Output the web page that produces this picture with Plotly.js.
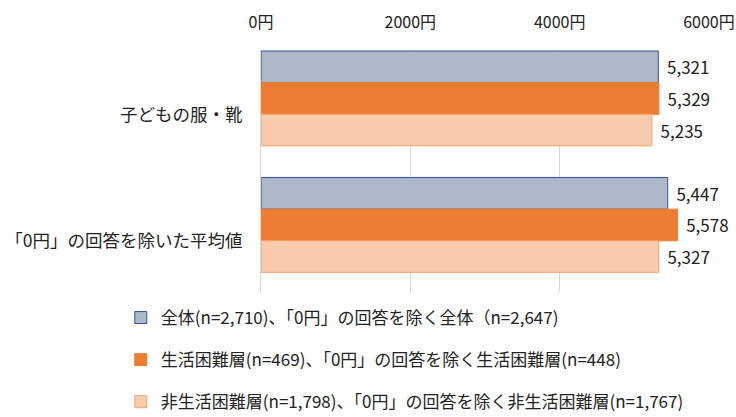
<!DOCTYPE html>
<html><head><meta charset="utf-8">
<script src="https://cdn.plot.ly/plotly-3.0.1.min.js"></script>
<style>body{margin:0;background:#fff}#chart{width:736px;height:417px}</style>
</head><body><div id="chart"></div>
<script>
const categories = ["子どもの服・靴", "「0円」の回答を除いた平均値"];
const seriesNames = [
  "全体(n=2,710)、「0円」の回答を除く全体（n=2,647)",
  "生活困難層(n=469)、「0円」の回答を除く生活困難層(n=448)",
  "非生活困難層(n=1,798)、「0円」の回答を除く非生活困難層(n=1,767)"
];
const allValues = [5321, 5447];
const hardshipValues = [5329, 5578];
const nonHardshipValues = [5235, 5327];
const tickValues = [0, 2000, 4000, 6000];
const tickLabels = ["0円", "2000円", "4000円", "6000円"];

const font = "'Noto Sans CJK JP', 'Noto Sans', sans-serif";
const styles = [
  {fill: "#ADB9CA", line: "#2F5597"},
  {fill: "#ED7D31", line: "#ED7D31"},
  {fill: "#F8CBAD", line: "#F4A46E"}
];
const series = [allValues, hardshipValues, nonHardshipValues];
const traces = series.map((vals, i) => ({
  type: "bar", orientation: "h",
  x: vals, y: categories, name: seriesNames[i],
  legendgroup: "g" + i,
  marker: {color: styles[i].fill, line: {color: styles[i].line, width: 1}},
  texttemplate: "\u2004%{x:,}", textposition: "outside", cliponaxis: false,
  textfont: {family: font, size: 17, color: "#222"},
  hoverinfo: "skip"
}));

const layout = {
  width: 736, height: 417,
  margin: {l: 261, r: 27, t: 50, b: 125},
  paper_bgcolor: "#fff", plot_bgcolor: "#fff",
  barmode: "group", bargap: 0.25, bargroupgap: 0,
  font: {family: font, size: 16, color: "#222"},
  xaxis: {
    side: "top", range: [0, 6000], tickmode: "array", tickvals: tickValues, ticktext: tickLabels,
    showgrid: true, gridcolor: "#D9D9D9", gridwidth: 1, zeroline: false,
    showline: false, ticks: "", ticklabelstandoff: 18,
    tickfont: {family: font, size: 16, color: "#222"}
  },
  yaxis: {
    range: [1.53, -0.383], showline: true, linecolor: "#D9D9D9", linewidth: 1,
    ticks: "", ticklabelstandoff: 14, ticklabelshift: -16,
    tickfont: {family: font, size: 17.5, color: "#222"}
  },
  showlegend: true,
  legend: {
    orientation: "v", xref: "paper", x: -0.313, xanchor: "left",
    yref: "container", y: 0.2806, yanchor: "top",
    traceorder: "grouped", tracegroupgap: 17,
    font: {family: font, size: 17, color: "#222"}
  }
};
Plotly.newPlot("chart", traces, layout, {staticPlot: true});
</script></body></html>
